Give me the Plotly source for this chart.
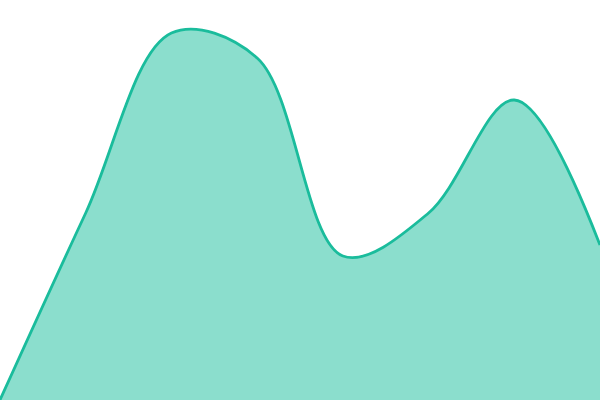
import plotly.graph_objs as go

# -- datos de la serie (8 puntos igualmente espaciados)
categorias = [0, 1, 2, 3, 4, 5, 6, 7]
valores = [0, 187, 367, 342, 144, 187, 300, 155]

fig = go.Figure()

# area suavizada
fig.add_trace(go.Scatter(x=categorias, y=valores,
                         mode='lines',
                         line=dict(color='#1abc9c', width=2.8, shape='spline', smoothing=1),
                         fill='tozeroy',
                         fillcolor='rgba(24,190,155,0.5)',
                         hoverinfo='skip'))

fig.update_layout(
    width=600, height=400,
    margin=dict(l=0, r=0, t=0, b=0, pad=0),
    paper_bgcolor='white', plot_bgcolor='white',
    showlegend=False,
    xaxis=dict(visible=False, range=[0, 7]),
    yaxis=dict(visible=False, range=[0, 400]))

# quitar el margen por default del body para que la grafica ocupe toda la ventana
fig.write_html("out.html", config={'displayModeBar': False},
               post_script="document.body.style.margin='0';"
                           "document.documentElement.style.overflow='hidden';")
